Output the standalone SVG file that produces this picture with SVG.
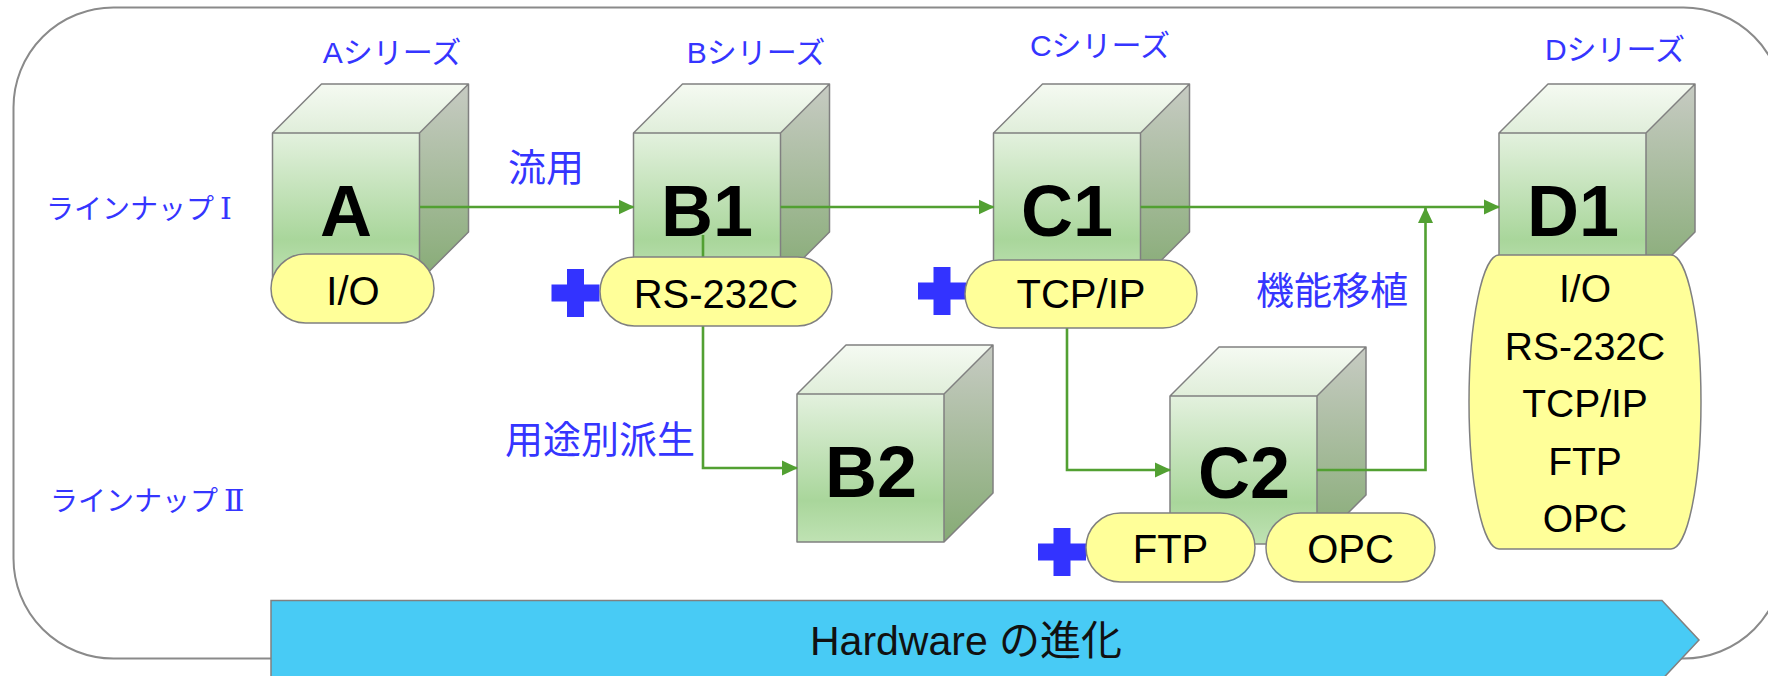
<svg xmlns="http://www.w3.org/2000/svg" width="1768" height="676" viewBox="0 0 1768 676">
<defs>
<linearGradient id="gFront" x1="0" y1="0" x2="0" y2="1">
<stop offset="0" stop-color="#E3F1DE"/>
<stop offset="0.72" stop-color="#A9D69B"/>
<stop offset="1" stop-color="#BFE2B3"/>
</linearGradient>
<linearGradient id="gTop" x1="0" y1="0" x2="0" y2="1">
<stop offset="0" stop-color="#F5FAF2"/>
<stop offset="1" stop-color="#E0EEDA"/>
</linearGradient>
<linearGradient id="gRight" x1="0" y1="0" x2="0" y2="1">
<stop offset="0" stop-color="#C7CBC3"/>
<stop offset="1" stop-color="#86AB75"/>
</linearGradient>
<g id="cube">
<rect x="0" y="0" width="147" height="148" fill="url(#gFront)"/>
<polygon points="0,0 49,-49 196,-49 147,0" fill="url(#gTop)"/>
<polygon points="147,0 196,-49 196,99 147,148" fill="url(#gRight)"/>
<path d="M0,0 L49,-49 H196 V99 L147,148 H0 Z M0,0 H147 L196,-49 M147,0 V148" fill="none" stroke="#808080" stroke-width="1.5" stroke-linejoin="round"/>
</g>
<path id="plus" d="M-24,-8.5 H-8.5 V-24 H8.5 V-8.5 H24 V8.5 H8.5 V24 H-8.5 V8.5 H-24 Z" fill="#3333FF"/>
<marker id="arr" viewBox="0 0 16 16" refX="15" refY="8" markerWidth="16" markerHeight="16" markerUnits="userSpaceOnUse" orient="auto">
<path d="M0,0.5 L16,8 L0,15.5 Z" fill="#52A032"/>
</marker>
</defs>
<style>
.lbl{fill:#3535FF;font-family:"Liberation Sans","Noto Sans CJK JP",sans-serif;}
.ser{font-size:30px;text-anchor:middle;}
.kan{font-size:38px;text-anchor:middle;}
.line{font-size:28px;font-family:"Noto Sans CJK JP",sans-serif;}
.rn{font-family:"DejaVu Serif","Noto Sans CJK JP",serif;font-size:30px;}
.big{font-family:"Liberation Sans",sans-serif;font-weight:bold;font-size:72px;text-anchor:middle;fill:#000;}
.pill{fill:#FFFF99;stroke:#808080;stroke-width:1.5;}
.ptxt{font-family:"Liberation Sans",sans-serif;font-size:40px;text-anchor:middle;fill:#000;}
.conn{fill:none;stroke:#52A032;stroke-width:2.6;}
</style>
<rect x="0" y="0" width="1768" height="676" fill="#FFFFFF"/>
<rect id="frame" x="13.5" y="7.5" width="1770" height="651" rx="100" ry="100" fill="#FFFFFF" stroke="#8A8A8A" stroke-width="2"/>

<g id="labels">
<text class="lbl ser" x="392" y="63">Aシリーズ</text>
<text class="lbl ser" x="756" y="63">Bシリーズ</text>
<text class="lbl ser" x="1100" y="56">Cシリーズ</text>
<text class="lbl ser" x="1615" y="60">Dシリーズ</text>
<text class="lbl line" x="46" y="219">ラインナップ<tspan class="rn" dx="6">Ⅰ</tspan></text>
<text class="lbl line" x="50" y="511">ラインナップ<tspan class="rn" dx="6">Ⅱ</tspan></text>
<text class="lbl kan" x="546" y="181">流用</text>
<text class="lbl kan" x="600" y="453">用途別派生</text>
<text class="lbl kan" x="1332" y="304">機能移植</text>
</g>

<g id="nodeA"><use href="#cube" x="272.5" y="133"/><text class="big" x="346" y="236">A</text></g>
<g id="nodeB1"><use href="#cube" x="633.5" y="133"/><text class="big" x="707" y="236">B1</text></g>
<g id="nodeC1"><use href="#cube" x="993.5" y="133"/><text class="big" x="1067" y="236">C1</text></g>
<g id="nodeD1"><use href="#cube" x="1499" y="133"/><text class="big" x="1573" y="236">D1</text></g>
<g id="nodeB2"><use href="#cube" x="797" y="394"/><text class="big" x="871" y="497">B2</text></g>
<g id="nodeC2"><use href="#cube" x="1170" y="396"/><text class="big" x="1244" y="498">C2</text></g>

<g id="connectors">
<line class="conn" x1="420" y1="207" x2="633.5" y2="207" marker-end="url(#arr)"/>
<line class="conn" x1="780.5" y1="207" x2="993.5" y2="207" marker-end="url(#arr)"/>
<line class="conn" x1="1140.5" y1="207" x2="1499" y2="207" marker-end="url(#arr)"/>
<polyline class="conn" points="703,235 703,468 797,468" marker-end="url(#arr)"/>
<polyline class="conn" points="1067,328 1067,470 1170,470" marker-end="url(#arr)"/>
<polyline class="conn" points="1317,470 1425.5,470 1425.5,208" marker-end="url(#arr)"/>
</g>

<g id="pillA"><rect class="pill" x="271" y="254" width="163" height="69" rx="34.5"/><text class="ptxt" x="353" y="305">I/O</text></g>
<g id="pillB1"><use href="#plus" x="575.5" y="293"/><rect class="pill" x="600" y="257" width="232" height="69" rx="34.5"/><text class="ptxt" x="716" y="308">RS-232C</text></g>
<g id="pillC1"><use href="#plus" x="942" y="291"/><rect class="pill" x="965" y="260" width="232" height="68" rx="34"/><text class="ptxt" x="1081" y="308">TCP/IP</text></g>
<g id="pillC2a"><use href="#plus" x="1062" y="552"/><rect class="pill" x="1086" y="513" width="169" height="69" rx="34.5"/><text class="ptxt" x="1170.5" y="563">FTP</text></g>
<g id="pillC2b"><rect class="pill" x="1266" y="513" width="169" height="69" rx="34.5"/><text class="ptxt" x="1350.5" y="563">OPC</text></g>
<g id="pillD1"><path class="pill" d="M1499,255 H1671 A30,147 0 0 1 1671,549 H1499 A30,147 0 0 1 1499,255 Z"/>
<text class="ptxt" x="1585" y="302" style="font-size:39px">I/O</text>
<text class="ptxt" x="1585" y="360" style="font-size:39px">RS-232C</text>
<text class="ptxt" x="1585" y="417" style="font-size:39px">TCP/IP</text>
<text class="ptxt" x="1585" y="475" style="font-size:39px">FTP</text>
<text class="ptxt" x="1585" y="532" style="font-size:39px">OPC</text>
</g>

<g id="hardware">
<polygon points="271,600.5 1662,600.5 1699,640 1662,679.5 271,679.5" fill="#48CBF5" stroke="#808080" stroke-width="1.5"/>
<text x="810" y="655" style="font-family:'Liberation Sans','Noto Sans CJK JP',sans-serif;font-size:41px;fill:#111">Hardware の進化</text>
</g>
</svg>
